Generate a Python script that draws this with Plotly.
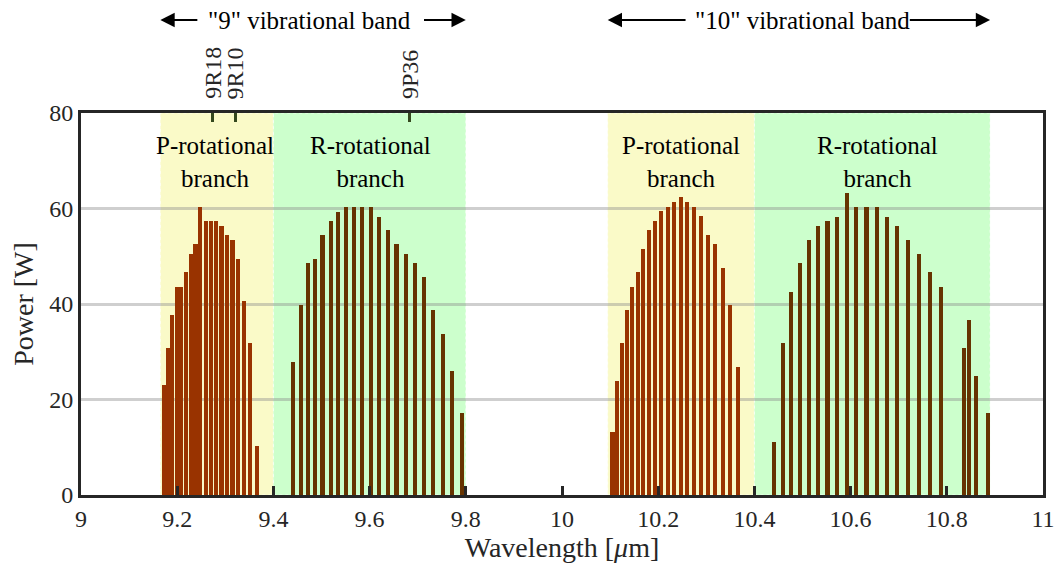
import plotly.graph_objects as go

# ---------------- data ----------------
p9_wl = [9.173, 9.181, 9.190, 9.199, 9.208, 9.218, 9.228, 9.238, 9.248, 9.260,
         9.270, 9.280, 9.292, 9.304, 9.315, 9.327, 9.339, 9.352, 9.365]
p9_pw = [23.0, 30.8, 37.7, 43.6, 43.6, 46.6, 50.5, 52.5, 60.4, 57.4,
         57.4, 57.4, 56.4, 54.5, 53.4, 49.5, 40.7, 31.8, 10.2]

r9_wl = [9.441, 9.457, 9.472, 9.486, 9.502, 9.519, 9.535, 9.551, 9.568, 9.585, 9.602,
         9.620, 9.638, 9.656, 9.675, 9.694, 9.713, 9.732, 9.752, 9.772, 9.793]
r9_pw = [27.9, 39.7, 48.6, 49.5, 54.4, 57.3, 59.3, 60.4, 60.4, 60.4, 60.4,
         58.3, 55.4, 52.5, 50.5, 48.6, 45.6, 38.7, 33.8, 26.0, 17.1]

p10_wl = [10.105, 10.115, 10.125, 10.136, 10.146, 10.158, 10.169, 10.181, 10.194, 10.206, 10.220,
          10.233, 10.247, 10.260, 10.274, 10.289, 10.304, 10.318, 10.334, 10.349, 10.365]
p10_pw = [13.1, 23.9, 31.8, 38.7, 43.6, 46.6, 51.5, 55.5, 57.4, 59.4, 60.4,
          61.3, 62.4, 61.3, 60.4, 58.4, 54.5, 52.5, 47.6, 39.7, 26.9]

r10_wl = [10.441, 10.459, 10.477, 10.495, 10.514, 10.532, 10.552, 10.572, 10.592, 10.612, 10.633,
          10.654, 10.676, 10.697, 10.720, 10.742, 10.765, 10.788, 10.836, 10.846, 10.861, 10.886]
r10_pw = [11.1, 31.9, 42.6, 48.5, 53.4, 56.4, 57.3, 58.3, 63.3, 60.3, 60.3,
          60.3, 58.3, 56.4, 53.4, 50.5, 46.6, 43.6, 30.8, 36.7, 24.9, 17.1]

# shaded branch regions (start, end)
p9_region = [9.165, 9.40]
r9_region = [9.40, 9.80]
p10_region = [10.095, 10.40]
r10_region = [10.40, 10.89]

# marked laser lines on top axis
line_wl = [9.274, 9.321, 9.683]
line_names = ["9R18", "9R10", "9P36"]

x_ticks = [9, 9.2, 9.4, 9.6, 9.8, 10, 10.2, 10.4, 10.6, 10.8, 11]
x_ticktext = ["9", "9.2", "9.4", "9.6", "9.8", "10", "10.2", "10.4", "10.6", "10.8", "11"]
y_ticks = [0, 20, 40, 60, 80]

# ---------------- styles ----------------
FONT = "Liberation Serif, Times New Roman, serif"
C_P = "#993300"
C_R = "#663300"
YEL = "#FAFAC8"
GRN = "#CCFFCC"
AX = "#262626"
BW = 0.0085

fig = go.Figure()
for wl, pw, col in [(p9_wl, p9_pw, C_P), (r9_wl, r9_pw, C_R),
                    (p10_wl, p10_pw, C_P), (r10_wl, r10_pw, C_R)]:
    fig.add_trace(go.Bar(x=wl, y=pw, width=BW, marker=dict(color=col, line=dict(width=0)),
                         showlegend=False))

# invisible trace to anchor the top axis
fig.add_trace(go.Scatter(x=[9, 11], y=[0, 0], xaxis="x2", mode="markers",
                         marker=dict(opacity=0), showlegend=False, hoverinfo="skip"))

for reg, col in [(p9_region, YEL), (r9_region, GRN), (p10_region, YEL), (r10_region, GRN)]:
    fig.add_shape(type="rect", xref="x", yref="y", x0=reg[0], x1=reg[1], y0=0, y1=80,
                  fillcolor=col, line=dict(color="rgba(255,255,255,0.7)", width=1, dash="dot"),
                  layer="below")

# top-axis line labels (rotated)
for xv, name in zip(line_wl, line_names):
    fig.add_annotation(x=xv, y=1 + 12 / 382.0, xref="x", yref="paper", text=name,
                       textangle=-90, showarrow=False, xanchor="center", yanchor="bottom",
                       font=dict(family=FONT, size=24, color=AX))

# branch labels
for xc, txt in [(9.278, "P-rotational<br>branch"), (9.601, "R-rotational<br>branch"),
                (10.247, "P-rotational<br>branch"), (10.655, "R-rotational<br>branch")]:
    fig.add_annotation(x=xc, y=69.8, xref="x", yref="y", text=txt, showarrow=False,
                       font=dict(family=FONT, size=25, color="black"), align="center")

# vibrational band labels with arrows
ytop = (495 - 20) / 382.0
fig.add_annotation(x=9.475, y=ytop, xref="x", yref="paper", text='"9" vibrational band',
                   showarrow=False, yanchor="middle",
                   font=dict(family=FONT, size=25, color="black"))
fig.add_annotation(x=10.499, y=ytop, xref="x", yref="paper", text='"10" vibrational band',
                   showarrow=False, yanchor="middle",
                   font=dict(family=FONT, size=25, color="black"))
for tip, tail in [(9.165, 9.245), (9.8, 9.71), (10.095, 10.26), (10.89, 10.72)]:
    fig.add_annotation(x=tip, y=ytop, ax=tail, ay=0, xref="x", yref="paper",
                       axref="x", ayref="pixel", text="", showarrow=True,
                       arrowhead=2, arrowsize=1.3, arrowwidth=2.2, arrowcolor="black")

fig.update_layout(
    width=1058, height=571,
    margin=dict(l=81, r=15, t=113, b=76, autoexpand=False),
    paper_bgcolor="white", plot_bgcolor="white",
    barmode="overlay", bargap=0,
    font=dict(family=FONT, size=24, color=AX),
    xaxis=dict(range=[9, 11], tickvals=x_ticks, ticktext=x_ticktext,
               ticks="inside", ticklen=9, tickwidth=2.5, tickcolor=AX,
               showline=True, linecolor=AX, linewidth=3, mirror=True,
               showgrid=False, zeroline=False, automargin=False,
               tickfont=dict(family=FONT, size=24, color=AX),
               title=dict(text="Wavelength [<i>μ</i>m]", standoff=4,
                          font=dict(family=FONT, size=28, color=AX))),
    xaxis2=dict(range=[9, 11], overlaying="x", side="top", anchor="y",
                tickvals=line_wl, showticklabels=False,
                ticks="inside", ticklen=9, tickwidth=3, tickcolor="#34481e",
                showline=False, showgrid=False, zeroline=False, automargin=False),
    yaxis=dict(range=[0, 80], tickvals=y_ticks, ticks="",
               showline=True, linecolor=AX, linewidth=3, mirror=True,
               showgrid=True, gridcolor="rgba(140,140,140,0.42)", gridwidth=3,
               zeroline=False, automargin=False,
               tickfont=dict(family=FONT, size=24, color=AX),
               title=dict(text="Power [W]", standoff=8,
                          font=dict(family=FONT, size=28, color=AX))),
)

fig.write_html("out.html")
